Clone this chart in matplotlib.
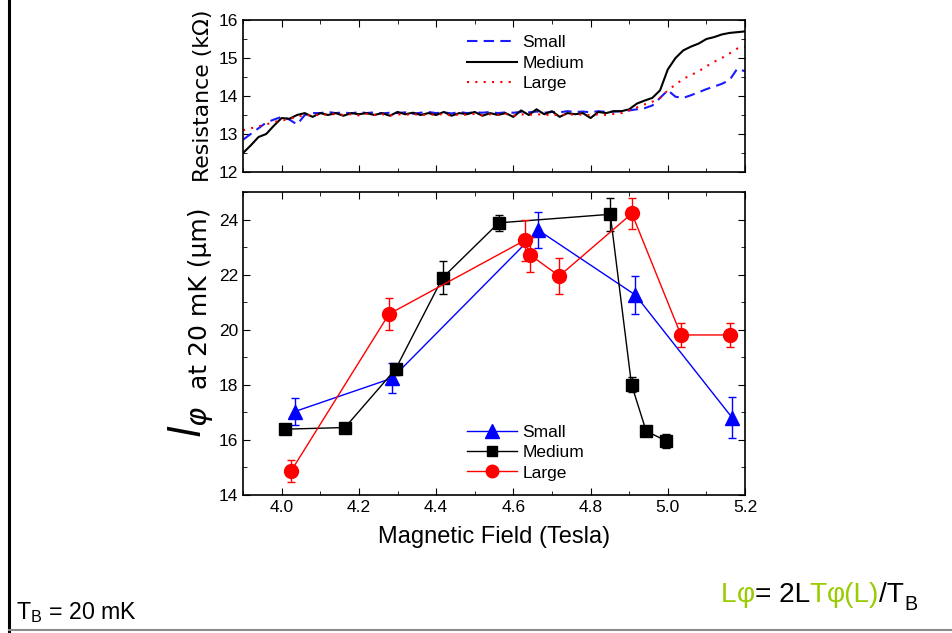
import matplotlib
matplotlib.use("Agg")
import matplotlib.pyplot as plt
from matplotlib.lines import Line2D
from matplotlib.ticker import MultipleLocator

matplotlib.rcParams.update({
    "font.family": "sans-serif",
    "font.sans-serif": ["Liberation Sans", "Arial", "DejaVu Sans"],
    "xtick.direction": "in",
    "ytick.direction": "in",
    "xtick.top": True,
    "ytick.right": True,
    "axes.linewidth": 1.2,
})
NARROW = ["Liberation Sans Narrow", "Liberation Sans", "DejaVu Sans"]
WIDE = ["DejaVu Sans"]

# ---- top panel: resistance vs field ----
field = [3.90, 3.92, 3.94, 3.96, 3.98, 4.00, 4.02, 4.04, 4.06, 4.08,
         4.10, 4.12, 4.14, 4.16, 4.18, 4.20, 4.22, 4.24, 4.26, 4.28,
         4.30, 4.32, 4.34, 4.36, 4.38, 4.40, 4.42, 4.44, 4.46, 4.48,
         4.50, 4.52, 4.54, 4.56, 4.58, 4.60, 4.62, 4.64, 4.66, 4.68,
         4.70, 4.72, 4.74, 4.76, 4.78, 4.80, 4.82, 4.84, 4.86, 4.88,
         4.90, 4.92, 4.94, 4.96, 4.98, 5.00, 5.02, 5.04, 5.06, 5.08,
         5.10, 5.12, 5.14, 5.16, 5.18, 5.20]
r_small = [12.85, 13.00, 13.15, 13.30, 13.38, 13.45, 13.38, 13.25, 13.50, 13.55,
           13.55, 13.58, 13.55, 13.57, 13.54, 13.58, 13.55, 13.57, 13.54, 13.56,
           13.55, 13.57, 13.53, 13.56, 13.58, 13.55, 13.57, 13.54, 13.58, 13.55,
           13.57, 13.56, 13.58, 13.55, 13.57, 13.56, 13.58, 13.57, 13.59, 13.56,
           13.58, 13.57, 13.60, 13.58, 13.59, 13.57, 13.60, 13.58, 13.59, 13.60,
           13.62, 13.65, 13.68, 13.75, 13.95, 14.15, 13.98, 13.95, 14.02, 14.10,
           14.18, 14.25, 14.32, 14.42, 14.72, 14.65]
r_medium = [12.50, 12.70, 12.92, 13.00, 13.22, 13.42, 13.40, 13.50, 13.55, 13.45,
            13.55, 13.50, 13.55, 13.48, 13.55, 13.52, 13.55, 13.50, 13.55, 13.48,
            13.58, 13.52, 13.56, 13.50, 13.55, 13.50, 13.58, 13.48, 13.55, 13.52,
            13.58, 13.48, 13.55, 13.50, 13.55, 13.45, 13.62, 13.50, 13.65, 13.52,
            13.60, 13.45, 13.55, 13.52, 13.55, 13.42, 13.58, 13.55, 13.60, 13.60,
            13.65, 13.80, 13.88, 13.95, 14.15, 14.70, 15.00, 15.20, 15.30, 15.38,
            15.50, 15.55, 15.62, 15.66, 15.68, 15.70]
r_large = [13.10, 13.15, 13.20, 13.25, 13.32, 13.35, 13.40, 13.45, 13.50, 13.48,
           13.52, 13.50, 13.53, 13.50, 13.52, 13.49, 13.53, 13.50, 13.52, 13.48,
           13.52, 13.50, 13.53, 13.49, 13.52, 13.50, 13.53, 13.48, 13.52, 13.50,
           13.53, 13.49, 13.52, 13.50, 13.53, 13.48, 13.52, 13.50, 13.53, 13.49,
           13.52, 13.48, 13.53, 13.50, 13.52, 13.49, 13.52, 13.50, 13.53, 13.55,
           13.62, 13.70, 13.78, 13.85, 13.95, 14.15, 14.30, 14.45, 14.55, 14.65,
           14.78, 14.90, 15.00, 15.12, 15.25, 15.30]

# ---- bottom panel: l_phi vs field ----
small_x = [4.034, 4.286, 4.665, 4.916, 5.167]
small_y = [17.03, 18.24, 23.61, 21.26, 16.80]
small_err = [0.50, 0.55, 0.65, 0.70, 0.74]

medium_x = [4.009, 4.164, 4.295, 4.417, 4.562, 4.851, 4.906, 4.944, 4.995]
medium_y = [16.39, 16.45, 18.57, 21.89, 23.88, 24.19, 18.01, 16.32, 15.97]
medium_err = [0.15, 0.10, 0.20, 0.60, 0.30, 0.60, 0.27, 0.10, 0.25]

large_x = [4.024, 4.278, 4.629, 4.643, 4.719, 4.907, 5.034, 5.160]
large_y = [14.86, 20.57, 23.24, 22.72, 21.95, 24.22, 19.81, 19.81]
large_err = [0.40, 0.57, 0.75, 0.63, 0.65, 0.55, 0.44, 0.42]

fig = plt.figure(figsize=(9.52, 6.33), dpi=100)
renderer = fig.canvas.get_renderer()


def fit_size(txt, family, width_px, base=20):
    """Font size that makes txt about width_px wide."""
    t = fig.text(0, 0, txt, fontsize=base, family=family)
    w = t.get_window_extent(renderer=renderer).width
    t.remove()
    return base * width_px / w


ax1 = fig.add_axes([0.2553, 0.7283, 0.5273, 0.2401])
ax1.plot(field, r_small, color="#1a1aff", lw=1.5, ls=(0, (5, 3)), label="Small")
ax1.plot(field, r_medium, color="black", lw=1.5, label="Medium")
ax1.plot(field, r_large, color="red", lw=1.5, ls=(0, (1, 3)), label="Large")
ax1.set_xlim(3.9, 5.2)
ax1.set_ylim(12, 16)
ax1.xaxis.set_major_locator(MultipleLocator(0.2))
ax1.xaxis.set_minor_locator(MultipleLocator(0.1))
ax1.yaxis.set_major_locator(MultipleLocator(1))
ax1.yaxis.set_minor_locator(MultipleLocator(0.5))
ax1.tick_params(labelbottom=False, labelsize=12.5)
ax1.tick_params(which="major", length=5)
ax1.tick_params(which="minor", length=3)
ax1.set_ylabel("Resistance (k\u03a9)", fontsize=15.8, family=WIDE, labelpad=4)
ax1.legend(loc="center left", bbox_to_anchor=(0.415, 0.717), frameon=False,
           prop={"size": 12.5}, handlelength=2.9, handletextpad=0.3,
           labelspacing=0.3)

ax2 = fig.add_axes([0.2553, 0.218, 0.5273, 0.4787])
series = [
    (small_x, small_y, small_err, "#0000ff", "^", 10.5, "Small"),
    (medium_x, medium_y, medium_err, "black", "s", 8.5, "Medium"),
    (large_x, large_y, large_err, "red", "o", 10, "Large"),
]
handles = []
for xs, ys, es, c, m, ms, lab in series:
    ax2.errorbar(xs, ys, yerr=es, fmt="none", ecolor=c, elinewidth=1.0,
                 capsize=3, capthick=1.0)
    ax2.plot(xs, ys, color=c, lw=1.0, marker=m, markersize=ms,
             markerfacecolor=c, markeredgecolor=c)
    handles.append(Line2D([], [], color=c, lw=1.0, marker=m, markersize=ms * 0.9,
                          markerfacecolor=c, markeredgecolor=c, label=lab))
ax2.set_xlim(3.9, 5.2)
ax2.set_ylim(14, 25)
ax2.xaxis.set_major_locator(MultipleLocator(0.2))
ax2.xaxis.set_minor_locator(MultipleLocator(0.1))
ax2.yaxis.set_major_locator(MultipleLocator(2))
ax2.yaxis.set_minor_locator(MultipleLocator(1))
ax2.tick_params(labelsize=12.5)
ax2.tick_params(which="major", length=5)
ax2.tick_params(which="minor", length=3)
ax2.set_xlabel("Magnetic Field (Tesla)", fontsize=17, labelpad=8)
ax2.legend(handles=handles, loc="center left", bbox_to_anchor=(0.415, 0.14),
           frameon=False, prop={"size": 12.5}, handlelength=2.9,
           handletextpad=0.3, labelspacing=0.3)

# y label of the bottom panel in two pieces (big italic l)
fig.text(0.201, 0.333, r"$l_{\varphi}$", rotation=90, fontsize=30,
         ha="center", va="center")
fig.text(0.21, 0.529, "at 20 mK (\u03bcm)", rotation=90, fontsize=18,
         family=WIDE, ha="center", va="center")

# annotations
tb = "T$_\\mathregular{B}$ = 20 mK"
fig.text(0.017, 0.012, tb, fontsize=fit_size(tb, NARROW, 120), family=NARROW,
         ha="left", va="bottom")

parts = [("L", "#99cc00"), ("\u03c6", "#99cc00"), ("= 2L", "black"),
         ("T", "#99cc00"), ("\u03c6(L)", "#99cc00"), ("/T", "black")]
full = "".join(p[0] for p in parts)
fs = fit_size(full + "B", NARROW, 200)
x0 = 721
for txt, col in parts:
    t = fig.text(x0 / 952, 0.04, txt, color=col, fontsize=fs, family=NARROW,
                 ha="left", va="bottom")
    x0 += t.get_window_extent(renderer=renderer).width
fig.text(x0 / 952, 0.03, "B", color="black", fontsize=fs * 0.7, family=NARROW,
         ha="left", va="bottom")

# slide frame lines
fig.add_artist(Line2D([0.009, 0.009], [0.0, 1.0], color="black", lw=2.2,
                      transform=fig.transFigure))
fig.add_artist(Line2D([0.009, 1.0], [0.004, 0.004], color="0.55", lw=1.5,
                      transform=fig.transFigure))

fig.savefig("out.png", dpi=100)
